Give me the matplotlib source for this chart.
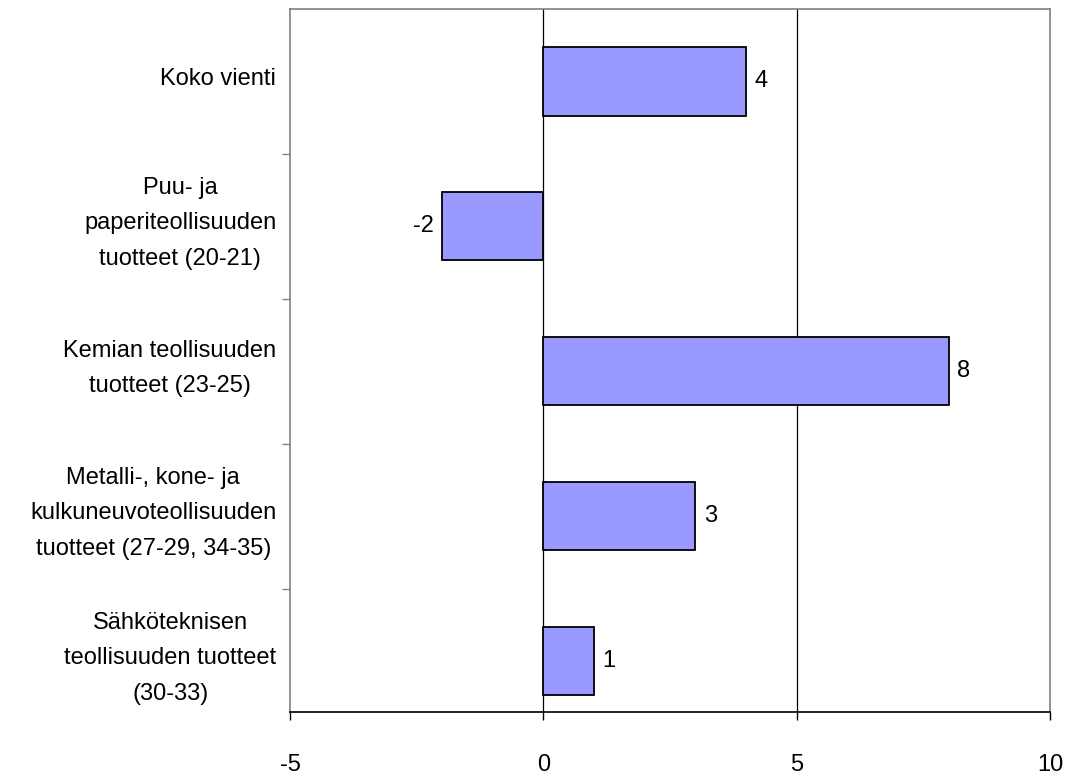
import matplotlib.pyplot as plt
from matplotlib.transforms import blended_transform_factory

plt.rcParams['font.family'] = ['Liberation Sans', 'DejaVu Sans']

# --- data ---
categories = [
    "Koko vienti",
    "Puu- ja\npaperiteollisuuden\ntuotteet (20-21)",
    "Kemian teollisuuden\ntuotteet (23-25)",
    "Metalli-, kone- ja\nkulkuneuvoteollisuuden\ntuotteet (27-29, 34-35)",
    "Sähköteknisen\nteollisuuden tuotteet\n(30-33)",
]
values = [4, -2, 8, 3, 1]
x_ticks = [-5, 0, 5, 10]

FS = 17

fig = plt.figure(figsize=(10.69, 7.78), dpi=100)
ax = fig.add_axes([0.2713, 0.0848, 0.7109, 0.9036])

pos = list(range(len(categories)))
ax.barh(pos, values, height=0.47, color="#9999FF", edgecolor="black",
        linewidth=1.3, zorder=3)

ax.set_xlim(-5, 10)
# category band runs a bit past the bottom axis, as in the original
ax.set_ylim(len(categories) - 0.648, -0.5)

# gridlines at major ticks
for xv in x_ticks[1:-1]:
    ax.axvline(xv, color="black", linewidth=0.9, zorder=1)

ax.set_xticks(x_ticks)
ax.set_xticklabels([str(v) for v in x_ticks], fontsize=FS)
ax.tick_params(axis="x", length=6, width=1, pad=24, direction="out")

# y ticks at category boundaries
ax.set_yticks([p + 0.5 for p in pos[:-1]])
ax.set_yticklabels([])
ax.tick_params(axis="y", length=6, width=1, color="#808080", direction="out")

for side in ["top", "right", "left"]:
    ax.spines[side].set_color("#808080")
    ax.spines[side].set_linewidth(1.2)
ax.spines["bottom"].set_color("black")
ax.spines["bottom"].set_linewidth(1.2)

# category labels
trans = blended_transform_factory(ax.transAxes, ax.transData)
for p, lab in zip(pos, categories):
    ax.text(-0.018, p - 0.02, lab, transform=trans, ha="right", va="center",
            multialignment="center", fontsize=FS, linespacing=1.8)

# value labels
for p, v in zip(pos, values):
    off = 0.17 if v >= 0 else -0.17
    ax.text(v + off, p, str(v), ha="left" if v >= 0 else "right",
            va="center", fontsize=FS, zorder=4)

fig.savefig("out.png", dpi=100)
